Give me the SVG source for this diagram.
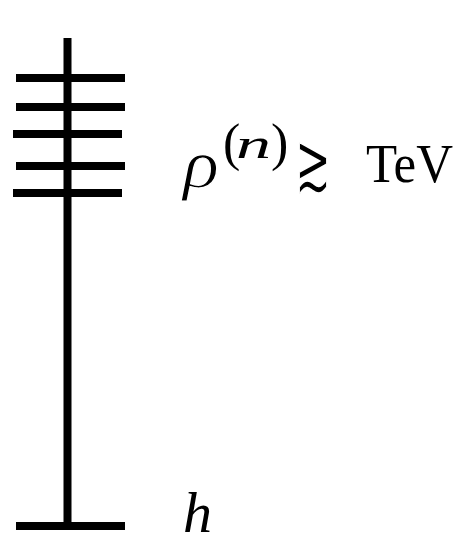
<svg xmlns="http://www.w3.org/2000/svg" width="456" height="539" viewBox="0 0 456 539">
<style>
.ln{stroke:#000;stroke-width:8;fill:none}
.t{font-family:"Liberation Serif","DejaVu Serif",serif;fill:#000}
.it{font-style:italic}
.sym{font-family:"DejaVu Serif","DejaVu Sans",serif;fill:#000;stroke:#fff;stroke-width:1.6}
.thin{stroke:#fff;stroke-width:1.2}
</style>
<rect width="456" height="539" fill="#fff"/>
<g id="connectors">
<line class="ln" x1="67.5" y1="38" x2="67.5" y2="526" stroke-width="7"/>
</g>
<g id="levels">
<line class="ln" x1="16" y1="78" x2="125" y2="78"/>
<line class="ln" x1="16" y1="107" x2="125" y2="107"/>
<line class="ln" x1="13" y1="134" x2="122" y2="134"/>
<line class="ln" x1="16" y1="166" x2="125" y2="166"/>
<line class="ln" x1="13" y1="193" x2="122" y2="193"/>
</g>
<g id="ground">
<line class="ln" x1="16" y1="526" x2="125" y2="526" stroke-width="9"/>
</g>
<g id="label-rho">
<text class="t it thin" x="183" y="187" font-size="68" textLength="36" lengthAdjust="spacingAndGlyphs">ρ</text>
<text class="t" x="223" y="160" font-size="52">(</text>
<text class="t it" x="236" y="158" font-size="42" textLength="35" lengthAdjust="spacingAndGlyphs">n</text>
<text class="t" x="271" y="160" font-size="52">)</text>
<text class="sym" x="295" y="191" font-size="83" textLength="36" lengthAdjust="spacingAndGlyphs">≳</text>
<text class="t" x="366" y="182" font-size="54" textLength="87" lengthAdjust="spacingAndGlyphs">TeV</text>
</g>
<g id="label-h">
<text class="t it" x="183" y="532" font-size="58">h</text>
</g>
</svg>
